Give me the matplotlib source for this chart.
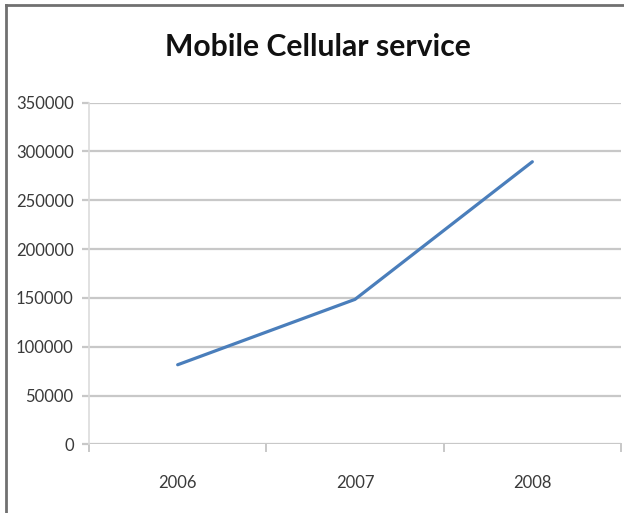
import matplotlib
matplotlib.use("Agg")
import matplotlib.pyplot as plt
from matplotlib.lines import Line2D

years = ["2006", "2007", "2008"]
subscribers = [81500, 148500, 289500]
y_ticks = [0, 50000, 100000, 150000, 200000, 250000, 300000, 350000]

W, H = 624, 513
fig = plt.figure(figsize=(W / 100, H / 100), dpi=100)
fig.patch.set_facecolor("white")

ax = fig.add_axes([89 / W, 1 - 444.3 / H, (621 - 89) / W, (444.3 - 102.7) / H])
ax.set_xlim(-0.5, len(years) - 0.5)
ax.set_ylim(0, 350000)

grid_c = "#c8c8c8"
for v in y_ticks:
    ax.axhline(v, color=grid_c, lw=1.6, zorder=1)

ax.plot(range(len(years)), subscribers, color="#4a7ebb", lw=2.3,
        solid_capstyle="round", solid_joinstyle="round", zorder=3)

for s in ["top", "right", "bottom"]:
    ax.spines[s].set_visible(False)
ax.spines["left"].set_color("#dcdcdc")
ax.spines["left"].set_linewidth(1.2)

font = "Lato"
ax.set_yticks(y_ticks)
ax.set_yticklabels([str(v) for v in y_ticks])
ax.tick_params(axis="y", length=5, width=1.6, color=grid_c, pad=6,
               labelsize=12, labelcolor="#3a3a3a")
ax.set_xticks(range(len(years)))
ax.set_xticklabels(years)
ax.tick_params(axis="x", length=0, pad=22, labelsize=12, labelcolor="#3a3a3a")
for lab in ax.get_xticklabels() + ax.get_yticklabels():
    lab.set_family(font)

# category boundary ticks below the horizontal axis
for b in [-0.5, 0.5, 1.5, 2.5]:
    ax.plot([b, b], [0, -7000], color=grid_c, lw=1.4, clip_on=False, zorder=1)

fig.text(318 / W, 1 - 47 / H, "Mobile Cellular service", ha="center", va="center",
         fontsize=21.7, fontweight="bold", family=font, color="#111111")

# frame lines on the left and top edges
fig.add_artist(Line2D([5.5 / W, 5.5 / W], [0, 1 - 4.5 / H], transform=fig.transFigure,
                      color="#707070", lw=2))
fig.add_artist(Line2D([5.5 / W, 1], [1 - 4.5 / H, 1 - 4.5 / H], transform=fig.transFigure,
                      color="#707070", lw=2))

fig.savefig("out.png", dpi=100, facecolor="white")
